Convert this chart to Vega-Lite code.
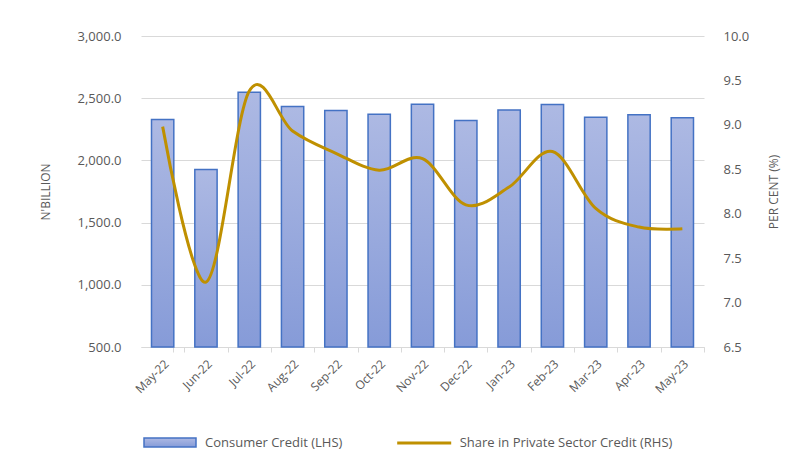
{
  "$schema": "https://vega.github.io/schema/vega-lite/v6.json",
  "width": 563,
  "height": 311,
  "autosize": {"type": "none"},
  "padding": {"left": 141, "top": 36, "right": 98, "bottom": 124},
  "background": "white",
  "config": {
    "view": {"stroke": null},
    "font": "Open Sans",
    "axis": {"labelColor": "#595959", "titleColor": "#595959", "labelFont": "Open Sans", "titleFont": "Open Sans", "titleFontWeight": "normal"},
    "legend": {"labelFont": "Open Sans", "labelColor": "#595959", "labelFontSize": 13, "labelLimit": 400, "padding": 0, "title": null}
  },
  "data": {
    "values": [
      {"month": "May-22", "credit": 2328, "share": 8.98},
      {"month": "Jun-22", "credit": 1927, "share": 7.23},
      {"month": "Jul-22", "credit": 2548, "share": 9.38},
      {"month": "Aug-22", "credit": 2433, "share": 8.93},
      {"month": "Sep-22", "credit": 2401, "share": 8.68},
      {"month": "Oct-22", "credit": 2371, "share": 8.49},
      {"month": "Nov-22", "credit": 2452, "share": 8.62},
      {"month": "Dec-22", "credit": 2320, "share": 8.10},
      {"month": "Jan-23", "credit": 2406, "share": 8.30},
      {"month": "Feb-23", "credit": 2449, "share": 8.70},
      {"month": "Mar-23", "credit": 2347, "share": 8.06},
      {"month": "Apr-23", "credit": 2366, "share": 7.85},
      {"month": "May-23", "credit": 2342, "share": 7.83}
    ]
  },
  "encoding": {
    "x": {
      "field": "month",
      "type": "ordinal",
      "sort": null,
      "scale": {"paddingInner": 0.485, "paddingOuter": 0.2425},
      "axis": {
        "title": null,
        "labelAngle": -45,
        "labelFontSize": 12,
        "labelPadding": 6,
        "domainColor": "#D9D9D9",
        "tickColor": "#D9D9D9",
        "tickSize": 5,
        "tickOffset": 21.66,
        "labelOffset": -21.66,
        "tickExtra": true,
        "grid": false
      }
    }
  },
  "layer": [
    {
      "mark": {
        "type": "bar",
        "strokeWidth": 1.5,
        "fill": {
          "gradient": "linear", "x1": 0, "y1": 0, "x2": 0, "y2": 1,
          "stops": [{"offset": 0, "color": "#ADB9E3"}, {"offset": 1, "color": "#869BD8"}]
        }
      },
      "encoding": {
        "y": {
          "field": "credit",
          "type": "quantitative",
          "scale": {"domain": [500, 3000], "zero": false, "nice": false},
          "axis": {
            "title": "N'BILLION",
            "titleFontSize": 12,
            "titlePadding": 25,
            "values": [500, 1000, 1500, 2000, 2500, 3000],
            "format": ",.1f",
            "labelFontSize": 13,
            "labelPadding": 20,
            "ticks": false,
            "domain": false,
            "grid": true,
            "gridColor": "#D9D9D9",
            "gridWidth": 1
          }
        },
        "y2": {"datum": 500},
        "stroke": {
          "datum": "Consumer Credit (LHS)",
          "type": "nominal",
          "scale": {"range": ["#4472C4"]},
          "legend": {
            "title": null,
            "orient": "none",
            "legendX": 2,
            "legendY": 379.5,
            "labelOffset": 8,
            "symbolSize": 2704,
            "symbolType": "M-1,-0.17H1V0.17H-1Z",
            "symbolStrokeWidth": 1.5
          }
        }
      }
    },
    {
      "mark": {"type": "line", "interpolate": "cardinal", "strokeWidth": 3},
      "encoding": {
        "y": {
          "field": "share",
          "type": "quantitative",
          "scale": {"domain": [6.5, 10], "zero": false, "nice": false},
          "axis": {
            "orient": "right",
            "title": "PER CENT (%)",
            "titleFontSize": 12,
            "titleAngle": 270,
            "titleBaseline": "top",
            "titlePadding": 20,
            "values": [6.5, 7, 7.5, 8, 8.5, 9, 9.5, 10],
            "format": ".1f",
            "labelFontSize": 13,
            "labelPadding": 19,
            "ticks": false,
            "domain": false,
            "grid": false
          }
        },
        "color": {
          "datum": "Share in Private Sector Credit (RHS)",
          "type": "nominal",
          "scale": {"range": ["#BF9000"]},
          "legend": {
            "title": null,
            "orient": "none",
            "legendX": 254.7,
            "legendY": 378.5,
            "labelOffset": 7,
            "symbolSize": 2916,
            "symbolType": "stroke",
            "symbolStrokeWidth": 3
          }
        }
      }
    }
  ],
  "resolve": {"scale": {"y": "independent"}}
}
